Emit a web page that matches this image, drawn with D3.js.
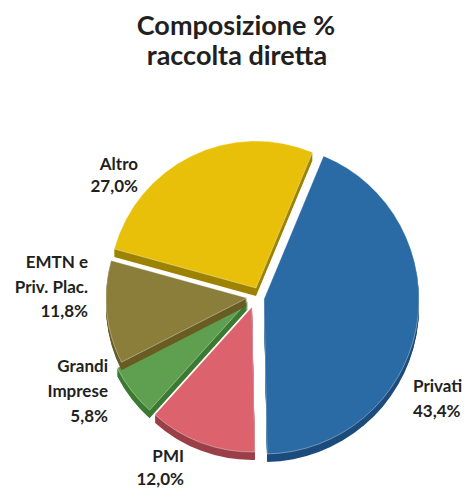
<!DOCTYPE html>
<html>
<head>
    <meta charset="utf-8">
    <title>Composizione raccolta diretta</title>
    <script src="https://d3js.org/d3.v7.min.js"></script>
    <style>
        body { margin: 0; background: #fff; }
        text { font-family: Lato, "Open Sans", sans-serif; font-weight: bold; fill: #231f20; }
        .title { font-size: 27px; }
        .label { font-size: 17px; }
    </style>
</head>
<body>
<svg width="468" height="490"></svg>
<script>
    // data
    var categories = ["Privati", "PMI", "Grandi Imprese", "EMTN e Priv. Plac.", "Altro"];
    var values = [43.4, 12.0, 5.8, 11.8, 27.0];
    var labelLines = [["Privati"], ["PMI"], ["Grandi", "Imprese"], ["EMTN e", "Priv. Plac."], ["Altro"]];

    // style
    var topColors = ["#2a6aa5", "#dc636e", "#5ea04f", "#8b7d3a", "#e8c00a"];
    var sideColors = ["#1c4c7c", "#9b3f48", "#3b7a30", "#6a5d24", "#9d8300"];
    var offsets = [[14, 0], [2, 8], [-2, 2], [-3, -1], [6, -11]];
    var radii = [155, 145, 147, 141, 147];
    // label anchor: x, y of first baseline, text-anchor
    var labelPos = [[413, 392, "start"], [184, 462, "end"], [108, 372, "end"], [88, 268, "end"], [138, 170, "end"]];
    var lineGap = [25, 23, 25, 24.5, 22];

    var svg = d3.select("svg");
    var cx = 250, cy = 299, depth = 8;

    svg.append("text").attr("class", "title").attr("x", 236).attr("y", 35)
        .attr("text-anchor", "middle").text("Composizione %");
    svg.append("text").attr("class", "title").attr("x", 237).attr("y", 65)
        .attr("text-anchor", "middle").text("raccolta diretta");

    var pie = d3.pie().sort(null)
        .startAngle(22.6 * Math.PI / 180)
        .endAngle(22.6 * Math.PI / 180 + 2 * Math.PI);

    var slices = pie(values);
    var arc = d3.arc().innerRadius(0);

    var g = svg.append("g").attr("transform", "translate(" + cx + "," + cy + ")");

    slices.forEach(function (s, i) {
        var a = arc.outerRadius(radii[i]);
        var sg = g.append("g").attr("transform", "translate(" + offsets[i][0] + "," + offsets[i][1] + ")");
        // side band, stacked copies shifted down
        for (var k = depth; k > 0; k--) {
            sg.append("path").attr("d", a(s))
                .attr("transform", "translate(0," + k + ")")
                .attr("fill", sideColors[i]);
        }
        sg.append("path").attr("d", a(s))
            .attr("fill", topColors[i])
            .attr("stroke", "rgba(255,255,255,0.45)")
            .attr("stroke-width", 0.8);
    });

    // labels
    categories.forEach(function (c, i) {
        var lines = labelLines[i].concat([d3.format(".1f")(values[i]).replace(".", ",") + "%"]);
        var t = svg.append("text").attr("class", "label")
            .attr("text-anchor", labelPos[i][2]);
        lines.forEach(function (l, j) {
            t.append("tspan").attr("x", labelPos[i][0])
                .attr("y", labelPos[i][1] + j * lineGap[i]).text(l);
        });
    });
</script>
</body>
</html>
